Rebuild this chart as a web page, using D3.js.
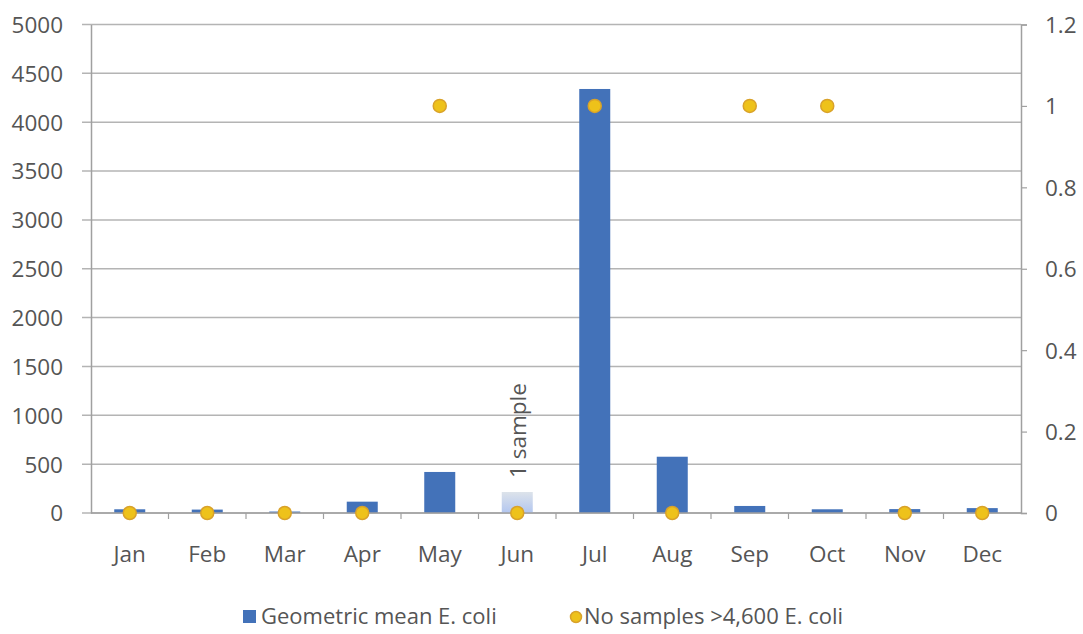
<!DOCTYPE html>
<html>
<head>
<meta charset="utf-8">
<script src="https://cdn.jsdelivr.net/npm/d3@7/dist/d3.min.js"></script>
<style>
  html, body { margin: 0; padding: 0; background: #fff; }
  svg { display: block; }
  text { font-family: "Open Sans", "Liberation Sans", sans-serif; fill: #555555; }
</style>
</head>
<body>
<svg id="chart" width="1083" height="634"></svg>
<script>
// Monthly E. coli monitoring data
const months = ["Jan", "Feb", "Mar", "Apr", "May", "Jun", "Jul", "Aug", "Sep", "Oct", "Nov", "Dec"];
const geoMean = [38, 35, 15, 116, 420, 215, 4340, 576, 72, 38, 40, 50];
const exceedCount = [0, 0, 0, 0, 1, 0, 1, 0, 1, 1, 0, 0];
const leftTicks = [0, 500, 1000, 1500, 2000, 2500, 3000, 3500, 4000, 4500, 5000];
const rightTicks = [0, 0.2, 0.4, 0.6, 0.8, 1, 1.2];
const singleSampleMonth = "Jun";
const legendLabels = ["Geometric mean E. coli", "No samples >4,600 E. coli"];

const svg = d3.select("#chart");
const plot = { left: 91, right: 1021, top: 24.5, bottom: 513 };
const fontSize = "22.5px";

const x = d3.scaleBand().domain(months).range([plot.left, plot.right]).padding(0);
const yL = d3.scaleLinear().domain([0, 5000]).range([plot.bottom, plot.top]);
const yR = d3.scaleLinear().domain([0, 1.2]).range([plot.bottom, plot.top]);

const gridColor = "#b4b4b4";
const axisColor = "#a0a0a0";

// gradient for the single-sample bar
const defs = svg.append("defs");
const grad = defs.append("linearGradient").attr("id", "lightBar")
  .attr("x1", 0).attr("y1", 0).attr("x2", 0).attr("y2", 1);
grad.append("stop").attr("offset", "0%").attr("stop-color", "#dde3ea");
grad.append("stop").attr("offset", "100%").attr("stop-color", "#b2c6f0");

// horizontal gridlines with outward ticks on the left
svg.append("g").selectAll("line").data(leftTicks).join("line")
  .attr("x1", plot.left - 9).attr("x2", plot.right)
  .attr("y1", d => yL(d)).attr("y2", d => yL(d))
  .attr("stroke", gridColor).attr("stroke-width", 1.5);

// left axis
const leftAxis = svg.append("g").attr("transform", `translate(${plot.left},0)`)
  .call(d3.axisLeft(yL).tickValues(leftTicks).tickSize(0).tickPadding(28).tickFormat(d3.format("d")));
leftAxis.select(".domain").attr("stroke", axisColor).attr("stroke-width", 1.5);
leftAxis.selectAll("text").style("font-size", fontSize).attr("fill", "#555555").attr("dy", "0.35em");

// right axis
const rightAxis = svg.append("g").attr("transform", `translate(${plot.right},0)`)
  .call(d3.axisRight(yR).tickValues(rightTicks).tickSize(6).tickPadding(18).tickFormat(d => d3.format("")(d)));
rightAxis.select(".domain").attr("stroke", axisColor).attr("stroke-width", 1.5);
rightAxis.selectAll(".tick line").attr("stroke", axisColor).attr("stroke-width", 1.2);
rightAxis.selectAll("text").style("font-size", fontSize).attr("fill", "#555555").attr("dy", "0.35em");

// bars
const barW = x.bandwidth() * 0.4;
svg.append("g").selectAll("rect").data(months.map((m, i) => ({ m, v: geoMean[i] }))).join("rect")
  .attr("x", d => x(d.m) + (x.bandwidth() - barW) / 2)
  .attr("width", barW)
  .attr("y", d => yL(d.v))
  .attr("height", d => yL(0) - yL(d.v))
  .attr("fill", d => d.m === singleSampleMonth ? "url(#lightBar)" : "#4372b9");

// bottom axis with category boundary ticks
const bottomAxis = svg.append("g").attr("transform", `translate(0,${plot.bottom})`);
bottomAxis.append("line").attr("x1", plot.left).attr("x2", plot.right)
  .attr("stroke", axisColor).attr("stroke-width", 1.5);
bottomAxis.selectAll("line.tk").data(months.slice(1)).join("line").attr("class", "tk")
  .attr("x1", d => x(d)).attr("x2", d => x(d)).attr("y1", 0).attr("y2", 6)
  .attr("stroke", axisColor).attr("stroke-width", 1.2);
bottomAxis.selectAll("text").data(months).join("text")
  .attr("x", d => x(d) + x.bandwidth() / 2).attr("y", 49)
  .attr("text-anchor", "middle").style("font-size", fontSize).text(d => d);

// single-sample annotation
const jm = x(singleSampleMonth) + x.bandwidth() / 2;
const jv = geoMean[months.indexOf(singleSampleMonth)];
svg.append("text")
  .attr("transform", `translate(${jm + 9},${yL(jv) - 14}) rotate(-90)`)
  .attr("text-anchor", "start").style("font-size", fontSize).text("1 sample");

// exceedance markers on the secondary axis
svg.append("g").selectAll("circle").data(months.map((m, i) => ({ m, v: exceedCount[i] }))).join("circle")
  .attr("cx", d => x(d.m) + x.bandwidth() / 2)
  .attr("cy", d => yR(d.v))
  .attr("r", 6.5)
  .attr("fill", "#eec21a").attr("stroke", "#d9a22a").attr("stroke-width", 1.5);

// legend
const legendY = 616;
const legendFont = "22px";
const lg = svg.append("g");
lg.append("rect").attr("x", 243).attr("y", legendY - 6).attr("width", 13).attr("height", 13).attr("fill", "#4372b9");
lg.append("text").attr("x", 261).attr("y", legendY).attr("dy", "0.35em").style("font-size", legendFont).text(legendLabels[0]);
lg.append("circle").attr("cx", 576).attr("cy", legendY + 1).attr("r", 5.5)
  .attr("fill", "#eec21a").attr("stroke", "#d9a22a").attr("stroke-width", 1.5);
lg.append("text").attr("x", 584).attr("y", legendY).attr("dy", "0.35em").style("font-size", legendFont).text(legendLabels[1]);
</script>
</body>
</html>
